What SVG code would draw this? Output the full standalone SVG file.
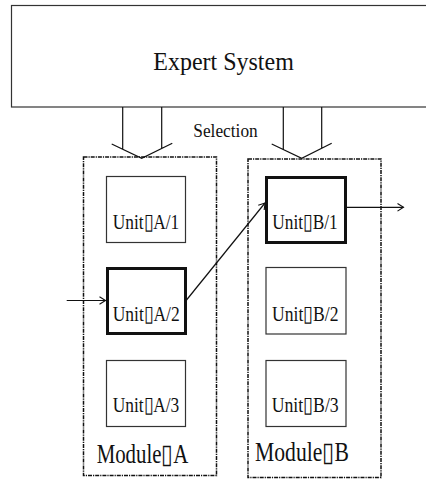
<svg xmlns="http://www.w3.org/2000/svg" width="426" height="479" viewBox="0 0 426 479">
<defs>
<marker id="open" markerUnits="userSpaceOnUse" markerWidth="12" markerHeight="12" viewBox="-8 -6 10 12" refX="0" refY="0" orient="auto">
<path d="M-6,-3.8 L0,0 L-6,3.8" fill="none" stroke="#111" stroke-width="1.1"/>
</marker>
</defs>
<style>
text{font-family:"Liberation Serif","Times New Roman",serif;fill:#111}
.box{fill:#fff;stroke:#333;stroke-width:1.2}
.bold{fill:#fff;stroke:#111;stroke-width:3}
.mod{fill:none;stroke:#111;stroke-width:1.5;stroke-dasharray:4 1 1.2 1}
.ln{fill:none;stroke:#111;stroke-width:1.2}
.unit{font-size:21.5px}
.modt{font-size:26.5px}
</style>
<rect width="426" height="479" fill="#fff"/>
<g id="expert">
<rect x="11.5" y="5.5" width="430" height="101.5" class="box"/>
<text x="153.3" y="70" font-size="25" textLength="140.5" lengthAdjust="spacingAndGlyphs">Expert System</text>
</g>
<g id="selection">
<path class="ln" d="M122.7,107 V149.2 M161.7,107 V148.5 M111.7,144 L141.7,158.3 L172.3,143.3"/>
<path class="ln" d="M283.3,107 V149.2 M321.7,107 V148.5 M271.7,144 L301.7,158.3 L331.7,143.3"/>
<text x="193.3" y="136.7" font-size="19" textLength="64.4" lengthAdjust="spacingAndGlyphs">Selection</text>
</g>
<g id="moduleA">
<rect x="83.5" y="157" width="133" height="318.5" class="mod"/>
<text x="96.7" y="462.5" class="modt" textLength="91.6" lengthAdjust="spacingAndGlyphs">Module▯A</text>
</g>
<g id="moduleB">
<rect x="248" y="159" width="133" height="318.5" class="mod"/>
<text x="255" y="460.5" class="modt" textLength="94" lengthAdjust="spacingAndGlyphs">Module▯B</text>
</g>
<g id="unitA1">
<rect x="106.5" y="176.5" width="79" height="66" class="box"/>
<text x="112.7" y="229.3" class="unit" textLength="66.6" lengthAdjust="spacingAndGlyphs">Unit▯A/1</text>
</g>
<g id="unitA2">
<rect x="107.5" y="268.5" width="78" height="65" class="bold"/>
<text x="112.7" y="320.5" class="unit" textLength="67" lengthAdjust="spacingAndGlyphs">Unit▯A/2</text>
</g>
<g id="unitA3">
<rect x="106.5" y="360.5" width="79" height="66" class="box"/>
<text x="112.7" y="411.7" class="unit" textLength="66.6" lengthAdjust="spacingAndGlyphs">Unit▯A/3</text>
</g>
<g id="unitB1">
<rect x="266.5" y="177.5" width="79" height="65" class="bold"/>
<text x="272.3" y="228.5" class="unit" textLength="65.4" lengthAdjust="spacingAndGlyphs">Unit▯B/1</text>
</g>
<g id="unitB2">
<rect x="266" y="267.5" width="80" height="66.5" class="box"/>
<text x="272" y="320.5" class="unit" textLength="66.5" lengthAdjust="spacingAndGlyphs">Unit▯B/2</text>
</g>
<g id="unitB3">
<rect x="266" y="360.5" width="80" height="66" class="box"/>
<text x="271.7" y="411.7" class="unit" textLength="67" lengthAdjust="spacingAndGlyphs">Unit▯B/3</text>
</g>
<g id="connectors">
<line x1="66.7" y1="300.5" x2="105.5" y2="300.5" class="ln" marker-end="url(#open)"/>
<line x1="186.5" y1="300" x2="265" y2="203" class="ln" marker-end="url(#open)"/>
<line x1="347" y1="207.3" x2="403.5" y2="207.3" class="ln" marker-end="url(#open)"/>
</g>
</svg>
